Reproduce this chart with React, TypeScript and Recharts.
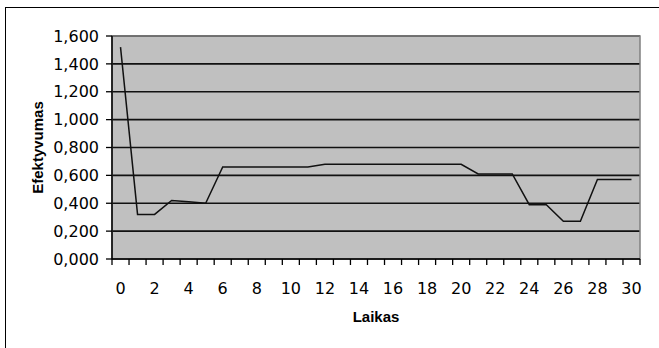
import React from 'react'
import {
    LineChart,
    Line,
    XAxis,
    YAxis,
    CartesianGrid,
    ReferenceArea,
    Label,
} from 'recharts'

// Laikas (time steps) and Efektyvumas values
const times = [
    0, 1, 2, 3, 4, 5, 6, 7, 8, 9, 10, 11, 12, 13, 14, 15, 16, 17, 18, 19, 20,
    21, 22, 23, 24, 25, 26, 27, 28, 29, 30,
]
const efficiency = [
    1.52, 0.32, 0.32, 0.42, 0.41, 0.4, 0.66, 0.66, 0.66, 0.66, 0.66, 0.66,
    0.68, 0.68, 0.68, 0.68, 0.68, 0.68, 0.68, 0.68, 0.68, 0.61, 0.61, 0.61,
    0.39, 0.39, 0.27, 0.27, 0.57, 0.57, 0.57,
]
const xLabels = [0, 2, 4, 6, 8, 10, 12, 14, 16, 18, 20, 22, 24, 26, 28, 30]
const yTicks = [0, 0.2, 0.4, 0.6, 0.8, 1.0, 1.2, 1.4, 1.6]

const data = times.map((t, i) => ({ t, value: efficiency[i] }))

// category boundaries (Excel puts tick marks between categories)
const boundaries = [...times.map((t) => t - 0.5), times[times.length - 1] + 0.5]
const xTicks = [...boundaries, ...xLabels].sort((a, b) => a - b)

const FONT = '"Liberation Sans", Arial, sans-serif'
const TICK_FONT = '"DejaVu Sans", sans-serif'

const fmt = (v: number) => v.toFixed(3).replace('.', ',')

function TimeTick(props: any) {
    const { x, y, payload } = props
    const v = payload.value
    if (!Number.isInteger(v)) {
        return <line x1={x} y1={y} x2={x} y2={y + 6} stroke="#000" strokeWidth={1.3} />
    }
    return (
        <text
            x={x}
            y={y + 35}
            textAnchor="middle"
            fontSize={16}
            fontFamily={TICK_FONT}
            fill="#000"
        >
            {v}
        </text>
    )
}

export default function App() {
    return (
        <div
            style={{
                position: 'absolute',
                left: 0,
                top: 0,
                width: 659,
                height: 348,
                background: '#fff',
                overflow: 'hidden',
            }}
        >
            <div
                style={{
                    position: 'absolute',
                    left: 5,
                    top: 7,
                    width: 700,
                    height: 400,
                    borderLeft: '1.5px solid #000',
                    borderTop: '1.5px solid #000',
                }}
            />
            <div style={{ position: 'absolute', left: 0, top: 0 }}>
                <LineChart
                    width={659}
                    height={348}
                    data={data}
                    margin={{ top: 36, right: 19, bottom: 24, left: 30 }}
                >
                    <CartesianGrid
                        vertical={false}
                        stroke="#111"
                        strokeWidth={1.6}
                        fill="#c0c0c0"
                        fillOpacity={1}
                    />
                    <ReferenceArea
                        x1={-0.5}
                        x2={30.5}
                        y1={0}
                        y2={1.6}
                        fill="none"
                        stroke="#808080"
                        strokeWidth={1.5}
                    />
                    <XAxis
                        dataKey="t"
                        type="number"
                        domain={[-0.5, 30.5]}
                        ticks={xTicks}
                        interval={0}
                        tickSize={0}
                        tickMargin={0}
                        tickLine={false}
                        axisLine={{ stroke: '#000', strokeWidth: 1.5 }}
                        tick={(p: any) => <TimeTick {...p} />}
                        height={65}
                    >
                        <Label
                            value="Laikas"
                            position="insideBottom"
                            offset={2}
                            style={{
                                fontFamily: FONT,
                                fontSize: 15,
                                fontWeight: 'bold',
                                fill: '#000',
                            }}
                        />
                    </XAxis>
                    <YAxis
                        domain={[0, 1.6]}
                        ticks={yTicks}
                        interval={0}
                        tickFormatter={fmt}
                        width={82}
                        tickSize={6}
                        tickMargin={7}
                        tickLine={{ stroke: '#000', strokeWidth: 1.3 }}
                        axisLine={{ stroke: '#000', strokeWidth: 1.5 }}
                        tick={{ fontSize: 16, fontFamily: TICK_FONT, fill: '#000' }}
                    >
                        <Label
                            value="Efektyvumas"
                            angle={-90}
                            position="insideLeft"
                            offset={8}
                            style={{
                                fontFamily: FONT,
                                fontSize: 15,
                                fontWeight: 'bold',
                                fill: '#000',
                                textAnchor: 'middle',
                            }}
                        />
                    </YAxis>
                    <Line
                        type="linear"
                        dataKey="value"
                        stroke="#111"
                        strokeWidth={1.5}
                        dot={false}
                        isAnimationActive={false}
                    />
                </LineChart>
            </div>
        </div>
    )
}
